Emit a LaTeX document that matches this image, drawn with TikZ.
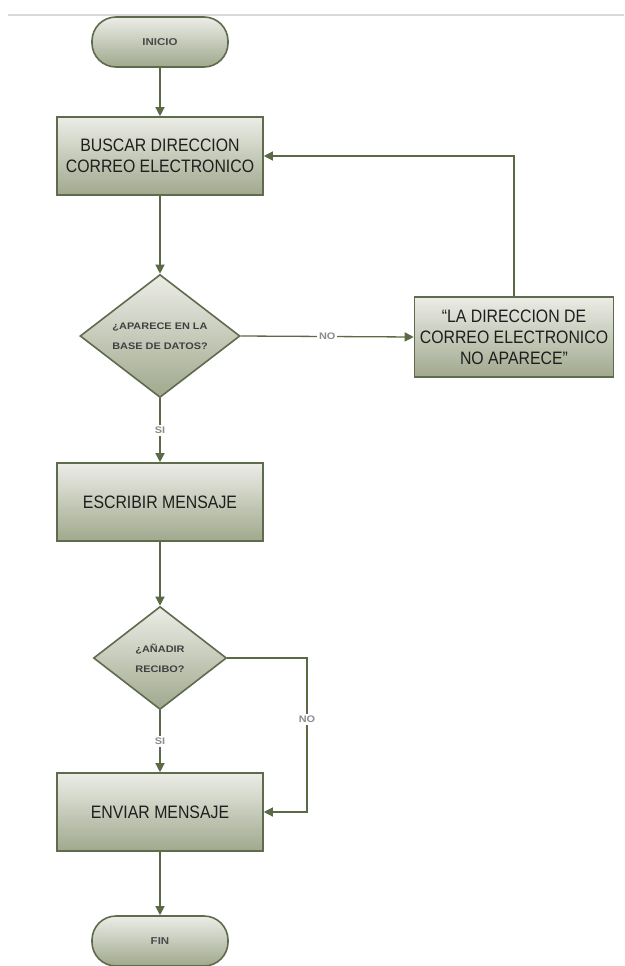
\documentclass[tikz,border=0pt]{standalone}
\usepackage{fontspec}
\setmainfont{Liberation Sans}
\newfontfamily\narrowfont[FakeStretch=0.88]{Liberation Sans}
\newfontfamily\widefont[FakeStretch=1.15]{Liberation Sans}
\usetikzlibrary{shapes.geometric,arrows.meta}
\definecolor{edgec}{HTML}{5E6B4C}
\definecolor{linec}{HTML}{5B6A45}
\definecolor{ftop}{HTML}{ECEDE7}
\definecolor{fbot}{HTML}{A0A88D}
\definecolor{txtc}{HTML}{1E1E1E}
\definecolor{lblc}{HTML}{8C8C8C}
\begin{document}
\begin{tikzpicture}[x=1pt,y=-1pt,
  proc/.style={draw=edgec, line width=1.6pt, top color=ftop, bottom color=fbot,
    minimum width=206pt, minimum height=78pt, inner sep=0pt, align=center,
    text=txtc, font=\narrowfont\fontsize{18}{21}\selectfont},
  term/.style={draw=edgec, line width=1.6pt, top color=ftop, bottom color=fbot,
    rounded corners=24pt, minimum width=136pt, minimum height=50pt,
    text=txtc!80, font=\widefont\bfseries\fontsize{10}{12}\selectfont},
  dec/.style={diamond, draw=edgec, line width=1.6pt, top color=ftop, bottom color=fbot,
    inner sep=0pt, align=center, text=txtc!85,
    font=\widefont\bfseries\fontsize{9.5}{20}\selectfont},
  flow/.style={draw=linec, line width=1.3pt, -{Triangle[length=9pt,width=9pt]}},
  lbl/.style={fill=white, text=lblc, inner sep=2pt,
    font=\widefont\bfseries\fontsize{9.5}{10}\selectfont}]
\useasboundingbox (0,0) rectangle (624,966);
\fill[white] (0,0) rectangle (624,966);
\draw[black!15, line width=1.5pt] (8,15) -- (624,15);

\node[term] (inicio) at (160,42) {INICIO};
\node[proc] (buscar) at (160,156) {BUSCAR DIRECCION\\CORREO ELECTRONICO};
\node[dec, minimum width=160pt, minimum height=123pt] (d1) at (160,336) {¿APARECE EN LA\\BASE DE DATOS?};
\node[proc, minimum width=199pt, minimum height=80pt] (noap) at (514,337) {“LA DIRECCION DE\\CORREO ELECTRONICO\\NO APARECE”};
\node[proc] (escribir) at (160,502) {ESCRIBIR MENSAJE};
\node[dec, minimum width=133pt, minimum height=103pt] (d2) at (160,658) {¿AÑADIR\\RECIBO?};
\node[proc] (enviar) at (160,812) {ENVIAR MENSAJE};
\node[term] (fin) at (160,941) {FIN};
\coordinate (c2) at (307,658);

\draw[flow] (inicio) -- (buscar);
\draw[flow] (buscar) -- (d1);
\draw[flow] (d1.east) -- node[lbl]{NO} (noap.west);
\draw[flow] (noap.north) |- (buscar.east);
\draw[flow] (d1.south) -- node[lbl]{SI} (escribir.north);
\draw[flow] (escribir) -- (d2);
\draw[flow] (d2.south) -- node[lbl]{SI} (enviar.north);
\draw[flow] (d2.east) -- (c2) |- node[lbl, pos=0.2]{NO} (enviar.east);
\draw[flow] (enviar) -- (fin);
\end{tikzpicture}
\end{document}
